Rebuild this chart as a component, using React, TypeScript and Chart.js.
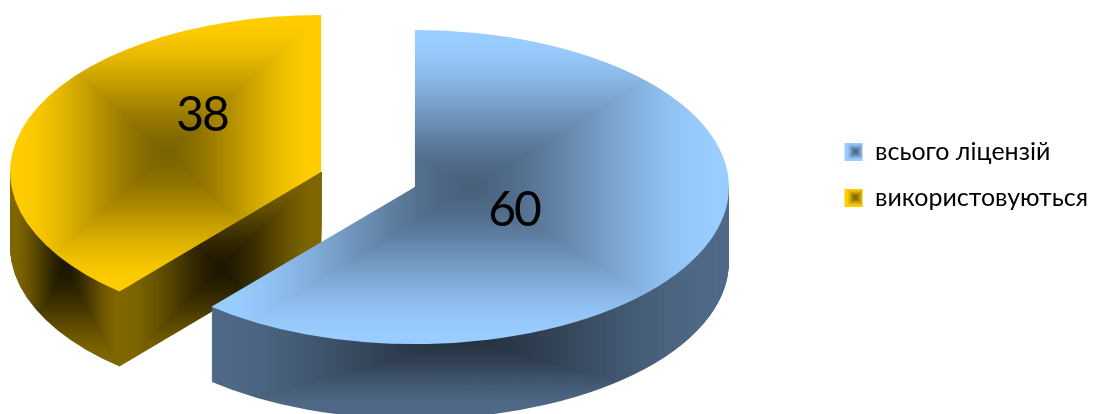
import React, { useEffect, useRef } from "react";
import { Chart, registerables } from "chart.js";

Chart.register(...registerables);

const categories = ["всього ліцензій", "використовуються"];
const values = [60, 38];

const W = 1120;
const H = 414;
const FONT = "Lato, Carlito, 'Open Sans', sans-serif";
const CENTER = { x: 368, y: 179.5 };
const SQUASH = 0.5;
const EXPLODE_X = 50;
const EXPLODE_Y = 22;
const RADIUS = 314;
const SLICE_SCALE = [1, 311 / 314];
const DEPTH = 75;
const LABEL_POS = [
  { x: 514, y: 211 },
  { x: 202, y: 116 },
];

type Region = { x0: number; x1: number; cx: number; cy: number; hw: number; hh: number; edge: number[]; mid: number[] };

const BLUE = [153, 204, 255];
const BLUE_MID = [72, 96, 124];
const BLUE_SIDE = [78, 104, 134];
const BLUE_SIDE_MID = [36, 48, 62];
const GOLD = [255, 204, 0];
const GOLD_MID = [122, 98, 0];
const GOLD_SIDE = [127, 102, 0];
const GOLD_SIDE_MID = [28, 22, 0];

function makePattern(ctx: CanvasRenderingContext2D, regions: Region[]) {
  const c = document.createElement("canvas");
  c.width = W;
  c.height = H + 120;
  const g = c.getContext("2d")!;
  const img = g.createImageData(c.width, c.height);
  for (let y = 0; y < c.height; y++) {
    for (let x = 0; x < c.width; x++) {
      const r = regions.find((q) => x >= q.x0 && x < q.x1);
      if (!r) continue;
      const raw = Math.min(1, 1.08 * Math.max(Math.abs(x - r.cx) / r.hw, Math.abs(y - r.cy) / r.hh));
      const t = 0.35 * raw + 0.65 * raw * raw * (3 - 2 * raw);
      const i = (y * c.width + x) * 4;
      for (let k = 0; k < 3; k++) img.data[i + k] = r.mid[k] + (r.edge[k] - r.mid[k]) * t;
      img.data[i + 3] = 255;
    }
  }
  g.putImageData(img, 0, 0);
  return ctx.createPattern(c, "no-repeat")!;
}

const makePie3d = (fills: { top: CanvasPattern; side: CanvasPattern }[]) => ({
  id: "pie3d",
  beforeDatasetDraw(chart: any, args: any) {
    const ctx: CanvasRenderingContext2D = chart.ctx;
    const arcs = args.meta.data;
    for (let i = arcs.length - 1; i >= 0; i--) {
      const el = arcs[i];
      const mid = (el.startAngle + el.endAngle) / 2;
      const tx = CENTER.x + Math.cos(mid) * EXPLODE_X;
      const ty = CENTER.y + Math.sin(mid) * EXPLODE_Y;
      const paint = (dy: number, pattern: CanvasPattern) => {
        ctx.save();
        ctx.translate(tx, ty + dy);
        ctx.scale(SLICE_SCALE[i], SQUASH);
        ctx.translate(-el.x, -el.y);
        pattern.setTransform(ctx.getTransform().inverse());
        const proxy = Object.create(el, {
          options: { value: { ...el.options, backgroundColor: pattern, borderWidth: 0 }, writable: true },
        });
        el.draw.call(proxy, ctx);
        ctx.restore();
      };
      ctx.save();
      ctx.beginPath();
      ctx.rect(0, ty, W, H);
      ctx.clip();
      for (let d = DEPTH; d >= 1; d--) paint(d, fills[i].side);
      ctx.restore();
      paint(0, fills[i].top);
    }
    return false;
  },
  afterDatasetsDraw(chart: any) {
    const ctx: CanvasRenderingContext2D = chart.ctx;
    ctx.save();
    ctx.font = `400 48px ${FONT}`;
    (ctx as any).letterSpacing = "-2px";
    ctx.fillStyle = "#000";
    ctx.textAlign = "center";
    ctx.textBaseline = "middle";
    values.forEach((v, i) => ctx.fillText(String(v), LABEL_POS[i].x, LABEL_POS[i].y));
    ctx.restore();
  },
});

export default function App() {
  const ref = useRef<HTMLCanvasElement>(null);
  useEffect(() => {
    const canvas = ref.current!;
    const ctx = canvas.getContext("2d")!;
    const fills = [
      {
        top: makePattern(ctx, [{ x0: 0, x1: W, cx: 470, cy: 187, hw: 258, hh: 157, edge: BLUE, mid: BLUE_MID }]),
        side: makePattern(ctx, [{ x0: 0, x1: W, cx: 465, cy: 337, hw: 258, hh: 75, edge: BLUE_SIDE, mid: BLUE_SIDE_MID }]),
        swatch: makePattern(ctx, [{ x0: 0, x1: W, cx: 855, cy: 151, hw: 9, hh: 9, edge: BLUE, mid: BLUE_MID }]),
      },
      {
        top: makePattern(ctx, [{ x0: 0, x1: W, cx: 166, cy: 153, hw: 155, hh: 139, edge: GOLD, mid: GOLD_MID }]),
        side: makePattern(ctx, [
          { x0: 0, x1: 121, cx: 65, cy: 268, hw: 55, hh: 99, edge: GOLD_SIDE, mid: GOLD_SIDE_MID },
          { x0: 121, x1: W, cx: 221, cy: 268, hw: 100, hh: 99, edge: GOLD_SIDE, mid: GOLD_SIDE_MID },
        ]),
        swatch: makePattern(ctx, [{ x0: 0, x1: W, cx: 855, cy: 197, hw: 9, hh: 9, edge: GOLD, mid: GOLD_MID }]),
      },
    ];
    const chart: any = new Chart(canvas, {
      type: "pie",
      data: {
        labels: categories,
        datasets: [
          {
            data: values,
            backgroundColor: ["rgb(153,204,255)", "rgb(255,204,0)"],
            borderWidth: 0,
            radius: RADIUS,
          },
        ],
      },
      options: {
        responsive: false,
        animation: false,
        devicePixelRatio: 1,
        events: [],
        layout: { padding: { right: 22, bottom: 64 } },
        plugins: {
          tooltip: { enabled: false },
          title: { display: false },
          legend: {
            position: "right",
            labels: {
              boxWidth: 18,
              boxHeight: 18,
              padding: 21,
              color: "#000",
              font: { family: FONT, size: 25 },
              generateLabels: () =>
                categories.map((text, i) => ({
                  text,
                  fillStyle: fills[i].swatch,
                  strokeStyle: "transparent",
                  lineWidth: 0,
                  hidden: false,
                  index: i,
                })),
            },
          },
        },
      } as any,
      plugins: [makePie3d(fills) as any],
    });
    return () => chart.destroy();
  }, []);
  return (
    <div style={{ position: "absolute", left: 0, top: 0, width: W, height: H, background: "#fff", overflow: "hidden" }}>
      <canvas ref={ref} width={W} height={H} style={{ display: "block" }} />
    </div>
  );
}
